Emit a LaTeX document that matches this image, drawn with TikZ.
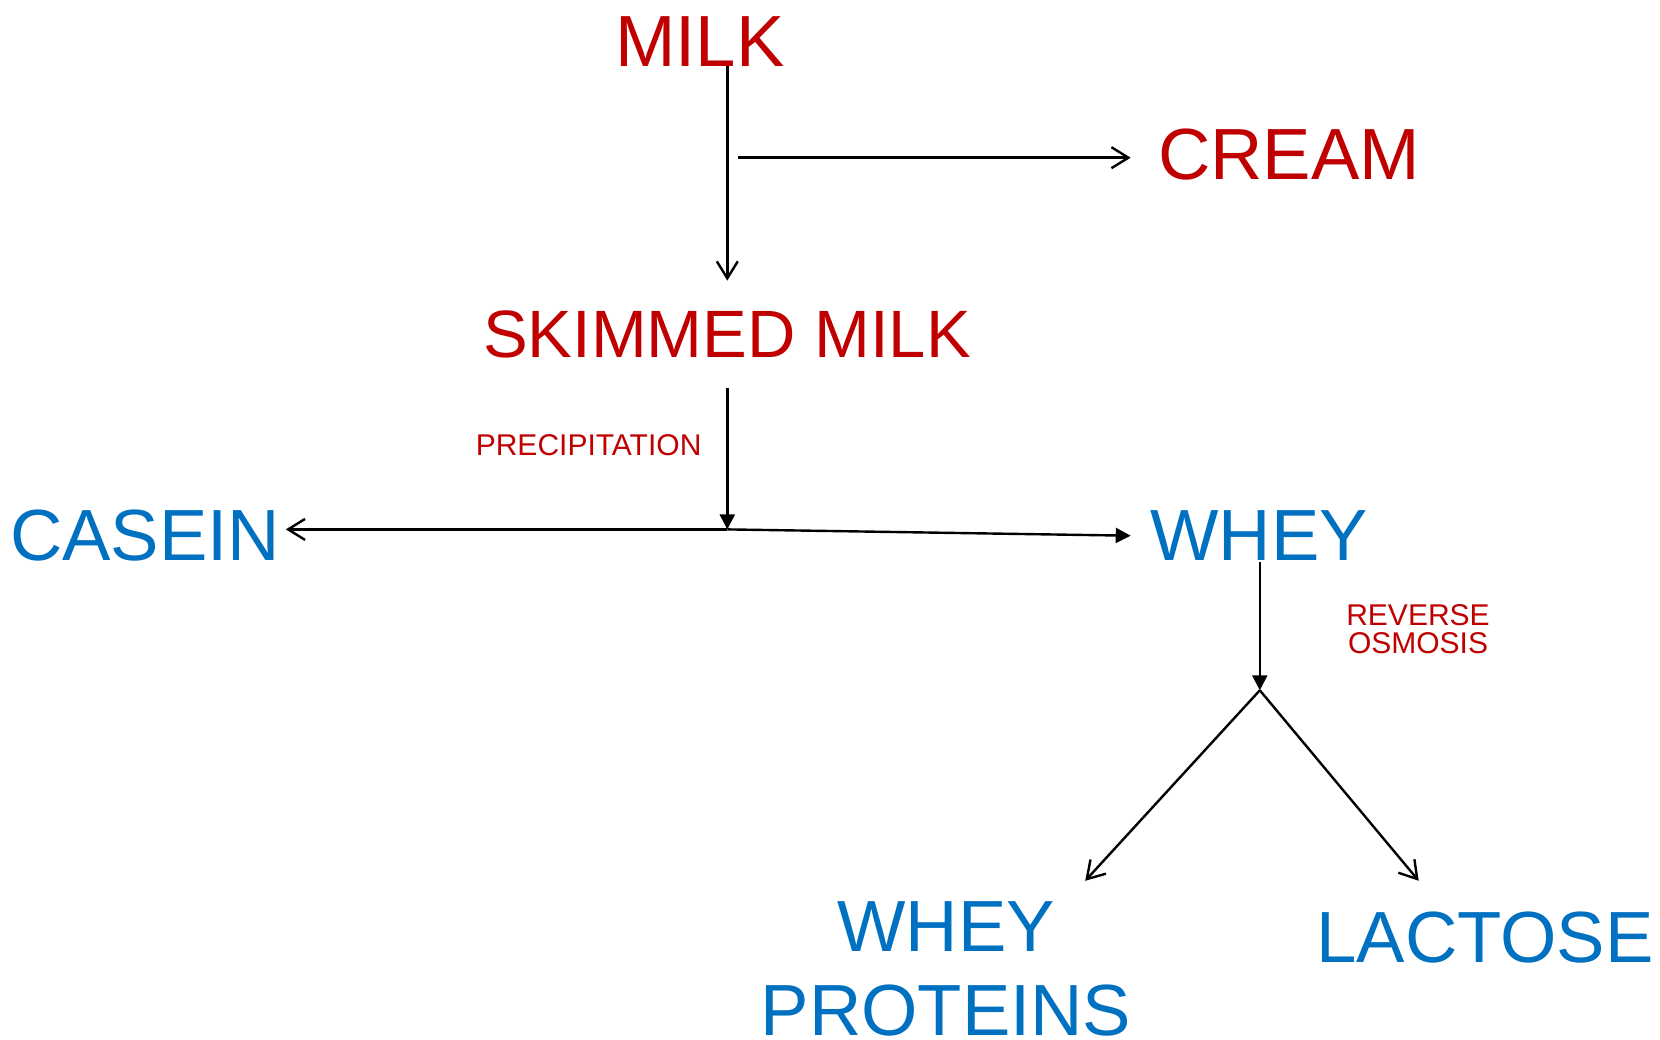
\documentclass[tikz,border=0pt]{standalone}
\usepackage{fontspec}
\setmainfont{Liberation Sans}
\usetikzlibrary{arrows.meta}
\definecolor{prodred}{RGB}{192,0,0}
\definecolor{prodblue}{RGB}{0,112,192}
\tikzset{
  big/.style={inner sep=0pt, anchor=base, font=\fontsize{72.5}{83.6}\selectfont, align=center},
  redtxt/.style={big, text=prodred},
  bluetxt/.style={big, text=prodblue},
  steplabel/.style={inner sep=0pt, anchor=base, text=prodred, font=\fontsize{30}{27.5}\selectfont, align=center},
  flow/.style={line width=2.4pt, black},
  openarrow/.style={flow, -{Straight Barb[length=17pt,width=21pt,line width=2.4pt]}},
  fillarrow/.style={flow, -{Triangle[length=15pt,width=15pt]}}
}
\begin{document}
\begin{tikzpicture}[x=1pt,y=-1pt]
\useasboundingbox (0,0) rectangle (1660,1040);

% products (multi-line nodes are placed by the baseline of their last line)
\node[redtxt]  (milk)   at (700,66.7)   {MILK};
\node[redtxt]  (cream)  at (1289,180)   {CREAM};
\node[redtxt, font=\fontsize{67}{67}\selectfont] (sm) at (727,357.8) {SKIMMED MILK};
\node[bluetxt] (casein) at (145,560)    {CASEIN};
\node[bluetxt] (whey)   at (1259,560)   {WHEY};
\node[bluetxt] (wp)     at (946,1035.4) {WHEY\\PROTEINS};
\node[bluetxt] (lac)    at (1485,962.3) {LACTOSE};

% process steps
\node[steplabel] (prec) at (588.6,455)  {PRECIPITATION};
\node[steplabel] (ro)   at (1418,653.2) {REVERSE\\OSMOSIS};

% connector end points
\coordinate (milkOut)  at (727.3,65.6);
\coordinate (smIn)     at (727.3,280.6);
\coordinate (creamOut) at (737.9,157.7);
\coordinate (creamIn)  at (1130.7,157.7);
\coordinate (smOut)    at (727.3,388.5);
\coordinate (split)    at (727.3,529.4);
\coordinate (caseinIn) at (285.8,529.4);
\coordinate (wheyIn)   at (1130.7,535.7);
\coordinate (wheyOut)  at (1259.8,562);
\coordinate (fork)     at (1259.8,690.3);
\coordinate (wpIn)     at (1085.2,880.8);
\coordinate (lacIn)    at (1418.7,880.8);

% separation of cream
\draw[openarrow] (milkOut) -- (smIn);
\draw[openarrow] (creamOut) -- (creamIn);

% precipitation
\draw[fillarrow] (smOut) -- (split);
\draw[openarrow] (split) -- (caseinIn);
\draw[fillarrow] (split) -- (wheyIn);

% reverse osmosis
\draw[fillarrow] (wheyOut) -- (fork);
\draw[openarrow] (fork) -- (wpIn);
\draw[openarrow] (fork) -- (lacIn);
\end{tikzpicture}
\end{document}
